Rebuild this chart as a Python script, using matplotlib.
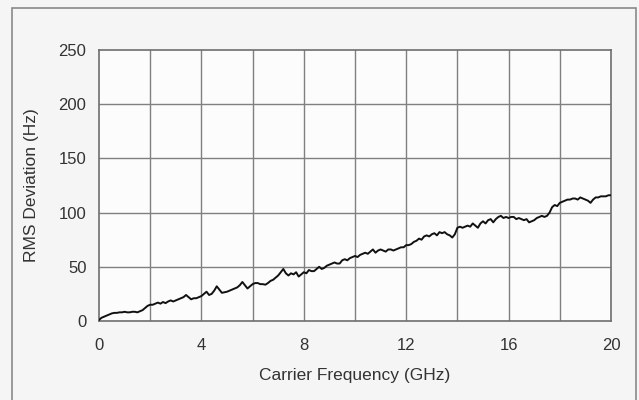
import matplotlib
matplotlib.use("Agg")
import matplotlib.pyplot as plt
from matplotlib.patches import Rectangle

plt.rcParams['font.family'] = ['Liberation Sans Narrow', 'Liberation Sans', 'DejaVu Sans']

freq_ghz = [round(0.1 * i, 1) for i in range(201)]
rms_hz = [1, 3, 4, 5, 6, 7, 7.5, 7.5, 8, 8,
          8.5, 8, 8, 8.5, 8.5, 8, 9, 10, 12, 14,
          15, 15, 16, 17, 16, 17.5, 16.5, 18, 19, 18,
          19, 20, 21, 22, 24, 22, 20, 21, 21, 22,
          23, 25, 27, 24, 25, 28, 32, 29, 26, 26.5,
          27, 28, 29, 30, 31, 33, 36, 33, 30, 32,
          34, 35, 35, 34, 34, 33.5, 35, 37, 38, 40,
          42, 45, 48, 44, 42, 44, 43, 45, 41, 43,
          45, 44, 47, 46, 46, 48, 50, 48, 49, 51,
          52, 53, 54, 53, 53, 56, 57, 56, 58, 59,
          60, 59, 61, 62, 63, 62, 64, 66, 63, 65,
          66, 65, 64, 66, 66, 65, 66, 67, 68, 68,
          70, 70, 71, 73, 74, 76, 75, 78, 79, 78,
          80, 81, 79, 82, 81, 82, 80, 79, 77, 80,
          86, 87, 86, 87, 88, 87, 90, 88, 86, 90,
          92, 90, 93, 94, 91, 94, 96, 97, 95, 96,
          95, 96, 96, 94, 95, 94, 93, 94, 91, 92,
          93, 95, 96, 97, 96, 97, 100, 105, 107, 106,
          109, 110, 111, 112, 112, 113, 113, 112, 114, 113,
          112, 111, 109, 112, 114, 114, 115, 115, 115, 116, 116]

x_ticks = [0, 4, 8, 12, 16, 20]
y_ticks = [0, 50, 100, 150, 200, 250]
x_grid = [2, 4, 6, 8, 10, 12, 14, 16, 18]

fig = plt.figure(figsize=(6.39, 4.0), dpi=100, facecolor='#f5f5f5')
fig.patches.append(Rectangle((12/639, -0.05), (636-12)/639, 1.05 - 8/400,
                             transform=fig.transFigure, fill=False,
                             edgecolor='#8a8a8a', linewidth=1.2))
ax = fig.add_axes([99/639, 79/400, 512/639, 271/400])
ax.set_facecolor('#fcfcfc')

for xv in x_grid:
    ax.axvline(xv, color='#808080', linewidth=1.0, zorder=1)
for yv in y_ticks[1:-1]:
    ax.axhline(yv, color='#808080', linewidth=1.0, zorder=1)

ax.plot(freq_ghz, rms_hz, color='#111111', linewidth=1.4, zorder=3)

ax.set_xlim(0, 20)
ax.set_ylim(0, 250)
ax.set_xticks(x_ticks)
ax.set_yticks(y_ticks)
ax.tick_params(length=0, labelsize=12, colors='#333333')
ax.tick_params(axis='x', pad=12)
ax.tick_params(axis='y', pad=9)
for s in ax.spines.values():
    s.set_color('#6e6e6e')
    s.set_linewidth(1.2)

ax.set_xlabel('Carrier Frequency (GHz)', fontsize=12.5, color='#333333', labelpad=11)
ax.set_ylabel('RMS Deviation (Hz)', fontsize=12.5, color='#333333', labelpad=14)

fig.savefig('out.png', dpi=100, facecolor=fig.get_facecolor())
